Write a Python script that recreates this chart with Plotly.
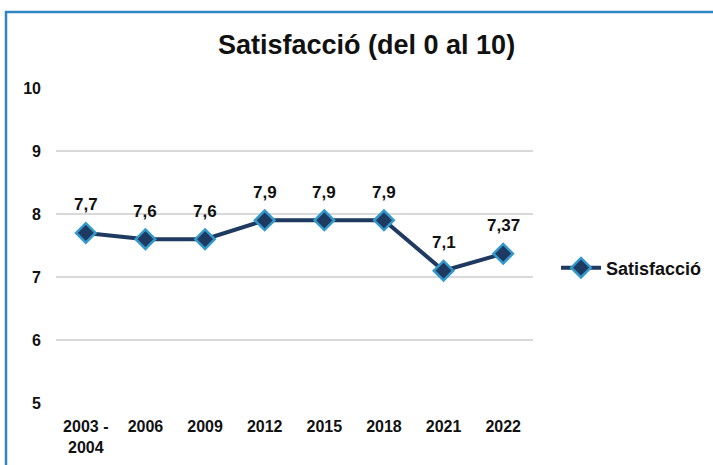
import plotly.graph_objects as go

categories = ["2003 -<br>2004", "2006", "2009", "2012", "2015", "2018", "2021", "2022"]
values = [7.7, 7.6, 7.6, 7.9, 7.9, 7.9, 7.1, 7.37]
labels = ["7,7", "7,6", "7,6", "7,9", "7,9", "7,9", "7,1", "7,37"]
series_name = "Satisfacció"
title_text = "Satisfacció (del 0 al 10)"

FONT = "Liberation Sans, Arial, sans-serif"
W, H = 713, 465
L, R, T, B = 56, 180, 88, 62
pw, ph = W - L - R, H - T - B

def px(x):
    return (x - L) / pw

def py(y):
    return (H - B - y) / ph

fig = go.Figure()
fig.add_trace(go.Scatter(
    x=list(range(len(categories))), y=values, name="<b>%s</b>" % series_name,
    mode="lines+markers",
    line=dict(color="#1f3a60", width=4),
    marker=dict(symbol="diamond", size=15, color="#1f3a60",
                line=dict(color="#3399cc", width=2.5)),
))

for i, (v, t) in enumerate(zip(values, labels)):
    fig.add_annotation(x=i, y=v, text="<b>%s</b>" % t, showarrow=False,
                       yshift=28, font=dict(family=FONT, size=17, color="#111111"))

fig.add_annotation(xref="paper", yref="paper", x=px(366), y=py(45),
                   text="<b>%s</b>" % title_text, showarrow=False,
                   font=dict(family=FONT, size=27, color="#111111"),
                   xanchor="center", yanchor="middle")

fig.add_shape(type="rect", xref="paper", yref="paper",
              x0=px(6), x1=px(740), y0=py(500), y1=py(12),
              line=dict(color="#2f86c0", width=2.5), fillcolor="rgba(0,0,0,0)")

fig.update_layout(
    width=W, height=H,
    margin=dict(l=L, r=R, t=T, b=B, autoexpand=False),
    paper_bgcolor="white", plot_bgcolor="white",
    font=dict(family=FONT, size=16, color="#111111"),
    showlegend=True,
    legend=dict(x=px(556), y=py(268), xanchor="left", yanchor="middle",
                font=dict(family=FONT, size=18, color="#111111"),
                bgcolor="rgba(0,0,0,0)", itemwidth=40),
    xaxis=dict(showgrid=False, showline=False, zeroline=False,
               ticks="", tickmode="array",
               tickvals=list(range(len(categories))),
               ticktext=["<b>%s</b>" % c for c in categories],
               tickfont=dict(family=FONT, size=16, color="#111111"),
               ticklabelstandoff=12,
               range=[-0.5, len(categories) - 0.5], automargin=False),
    yaxis=dict(range=[5, 10], dtick=1, showgrid=True, gridcolor="#d9d9d9",
               gridwidth=1.5, zeroline=False, showline=False, ticks="",
               tickprefix="<b>", ticksuffix="</b>",
               tickfont=dict(family=FONT, size=16, color="#111111"),
               ticklabelstandoff=14, automargin=False),
)

fig.write_html("out.html")
